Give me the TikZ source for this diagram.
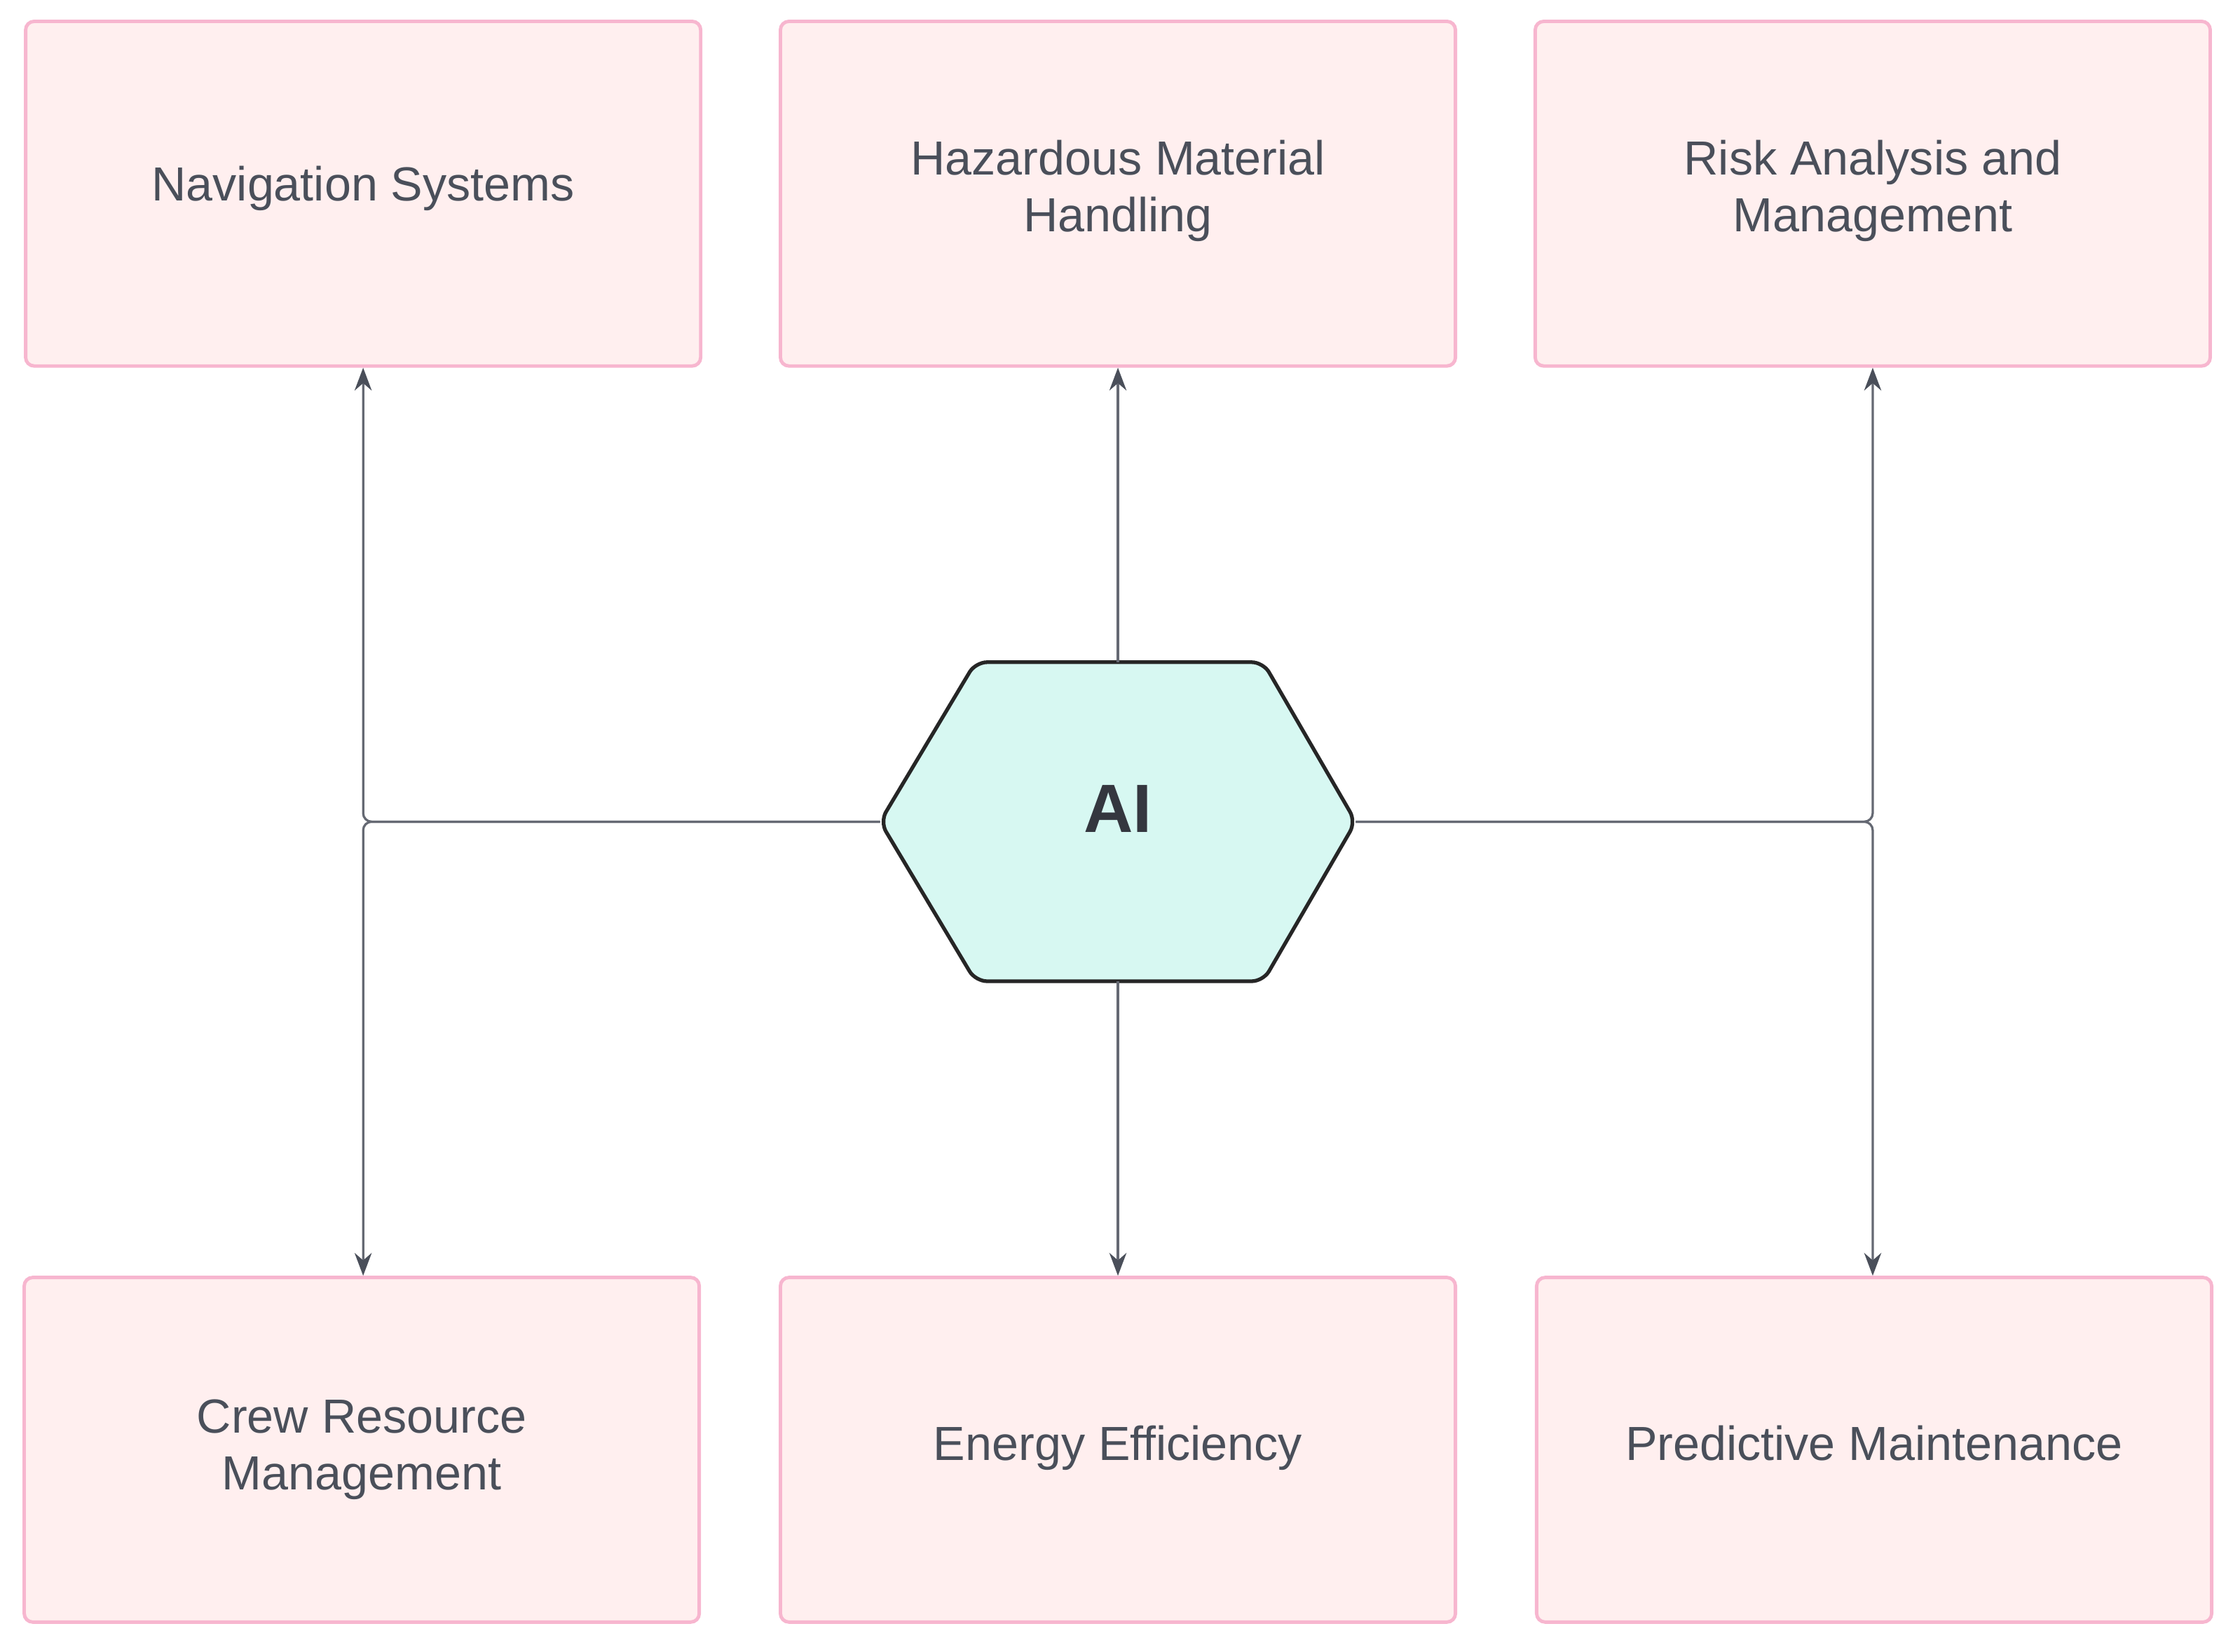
\documentclass[tikz,border=0pt]{standalone}
\usepackage{fontspec}
\setmainfont{Liberation Sans}
\usetikzlibrary{arrows.meta}
\definecolor{boxfill}{HTML}{FFEFEF}
\definecolor{boxline}{HTML}{F7B6CF}
\definecolor{txt}{HTML}{4A4F5A}
\definecolor{hexfill}{HTML}{D7F8F2}
\definecolor{conn}{HTML}{4A4F5A}
\begin{document}
\begin{tikzpicture}[x=0.5pt,y=-0.5pt,
  box/.style={draw=boxline,line width=1.2pt,fill=boxfill,rounded corners=3pt,minimum width=237pt,minimum height=121pt,text=txt,font=\fontsize{16.8}{20}\selectfont,align=center,inner sep=0pt},
  arr/.style={draw=conn!85,line width=0.8pt,-{Stealth[length=8pt,width=6pt,color=conn]},rounded corners=3pt}]
\useasboundingbox (0,0) rectangle (1568,1160);
\node[box] (nav) at (255,136) {\raisebox{7pt}{Navigation Systems}};
\node[box] (haz) at (785,136) {\raisebox{17pt}{\begin{tabular}{c}Hazardous Material\\Handling\end{tabular}}};
\node[box] (risk) at (1315,136) {\raisebox{17pt}{\begin{tabular}{c}Risk Analysis and\\Management\end{tabular}}};
\node[box] (crew) at (254,1018) {\raisebox{6pt}{\begin{tabular}{c}Crew Resource\\Management\end{tabular}}};
\node[box] (en) at (785,1018) {\raisebox{5pt}{Energy Efficiency}};
\node[box] (pm) at (1316,1018) {\raisebox{5pt}{Predictive Maintenance}};
\coordinate (hl) at (618,577);
\coordinate (hr) at (952,577);
\coordinate (ht) at (785,465);
\coordinate (hb) at (785,689);
\draw[fill=hexfill,draw=black!85,line width=1.3pt,rounded corners=4pt]
  (hl) -- (685,465) -- (887,465) -- (hr) -- (887,689) -- (685,689) -- cycle;
\node[font=\bfseries\fontsize{24}{28}\selectfont,text=txt!70!black] (ai) at (785,568) {AI};
\draw[arr] (hl) -- (255,577) -- (nav.south);
\draw[arr] (hl) -- (255,577) -- (crew.north -| 255,0);
\draw[arr] (ht) -- (haz.south);
\draw[arr] (hb) -- (en.north);
\draw[arr] (hr) -- (1315,577) -- (risk.south);
\draw[arr] (hr) -- (1315,577) -- (pm.north -| 1315,0);
\end{tikzpicture}
\end{document}
